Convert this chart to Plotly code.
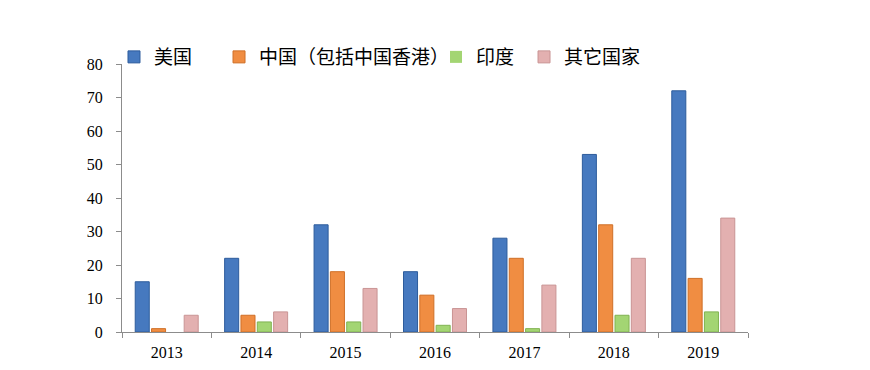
import plotly.graph_objects as go

years = ["2013", "2014", "2015", "2016", "2017", "2018", "2019"]
usa = [15, 22, 32, 18, 28, 53, 72]
china = [1, 5, 18, 11, 22, 32, 16]
india = [0, 3, 3, 2, 1, 5, 6]
others = [5, 6, 13, 7, 14, 22, 34]

series_names = ["美国", "中国（包括中国香港）", "印度", "其它国家"]
colors = ["#4679bf", "#f08d42", "#a3d573", "#e3b0b0"]
lines = ["#2d5c9c", "#cf6f27", "#80b352", "#c99494"]
legend_ids = ["legend", "legend2", "legend3", "legend4"]
legend_x = [-0.0128, 0.1550, 0.5016, 0.6422]

fig = go.Figure()
for name, vals, c, lc, lid in zip(series_names, [usa, china, india, others], colors, lines, legend_ids):
    fig.add_trace(go.Bar(
        x=years, y=vals, name=name, legend=lid,
        marker=dict(color=c, line=dict(color=lc, width=[1 if v else 0 for v in vals])),
    ))

leg_common = dict(
    orientation="h", xanchor="left", yanchor="middle", y=1.026,
    font=dict(family="Noto Sans CJK SC", size=19, color="black"),
    itemwidth=30, bgcolor="rgba(0,0,0,0)", borderwidth=0,
)
fig.update_layout(
    width=870, height=370,
    margin=dict(l=114, r=130, t=56, b=46),
    paper_bgcolor="white", plot_bgcolor="white",
    barmode="group", bargap=0.27, bargroupgap=0.14,
    font=dict(family="Liberation Serif", size=16, color="black"),
    showlegend=True,
    legend=dict(x=legend_x[0], **leg_common),
    legend2=dict(x=legend_x[1], **leg_common),
    legend3=dict(x=legend_x[2], **leg_common),
    legend4=dict(x=legend_x[3], **leg_common),
)
fig.update_xaxes(
    type="category", showline=True, linecolor="#8c8c8c", linewidth=1,
    ticks="outside", tickson="boundaries", ticklen=5, tickcolor="#8c8c8c",
    showgrid=False, tickfont=dict(family="Liberation Serif", size=16),
    ticklabelstandoff=6,
)
fig.update_yaxes(
    range=[0, 80], dtick=10, showline=True, linecolor="#8c8c8c", linewidth=1,
    ticks="outside", ticklen=5, tickcolor="#8c8c8c", showgrid=False, zeroline=False,
    tickfont=dict(family="Liberation Serif", size=16),
    ticklabelstandoff=10,
)
fig.write_html("out.html")
